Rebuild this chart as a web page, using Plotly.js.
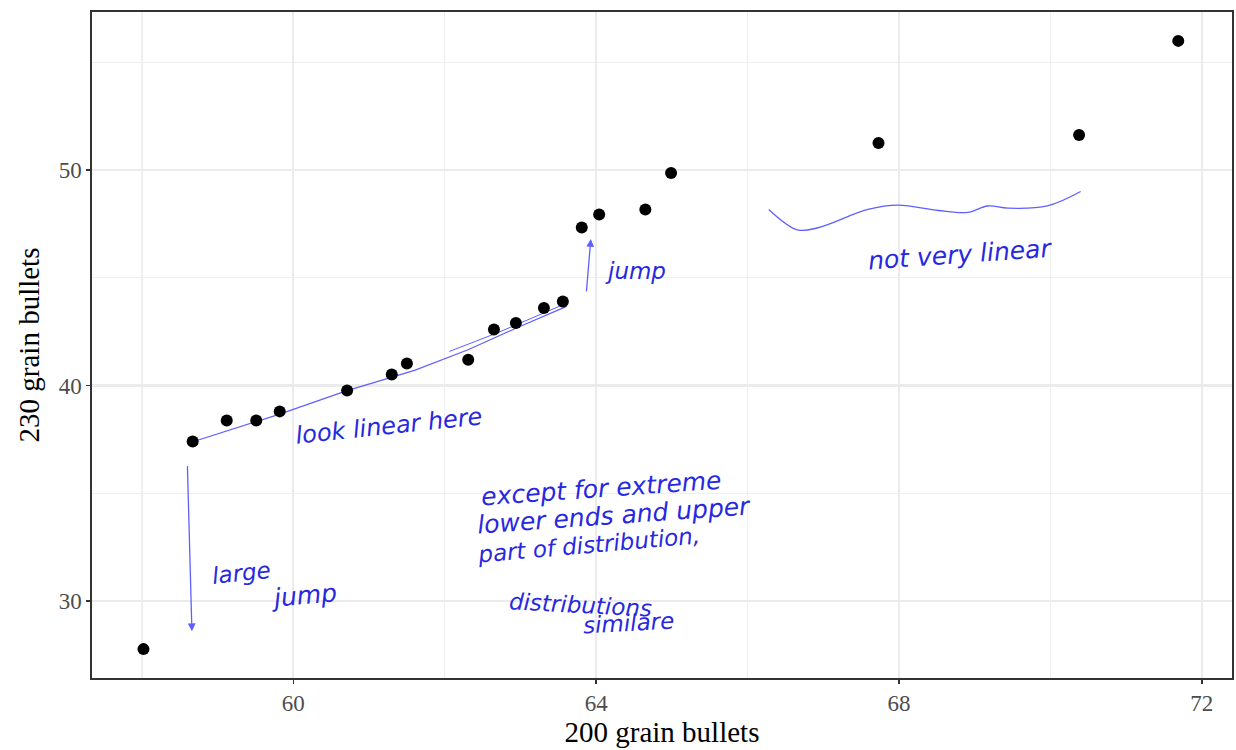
<!DOCTYPE html>
<html><head><meta charset="utf-8">
<script src="https://cdn.plot.ly/plotly-3.0.1.min.js"></script>
<style>html,body{margin:0;padding:0;background:#fff}#chart{width:1236px;height:750px}</style>
</head><body><div id="chart"></div>
<script>
// Quantiles of the two samples (QQ plot)
const grain200 = [58.02, 58.67, 59.12, 59.51, 59.82, 60.71, 61.30, 61.50, 62.31, 62.65, 62.94, 63.31, 63.56, 63.81, 64.04, 64.65, 64.99, 67.73, 70.38, 71.69];
const grain230 = [27.77, 37.40, 38.38, 38.38, 38.80, 39.77, 40.51, 41.02, 41.20, 42.60, 42.90, 43.60, 43.90, 47.33, 47.94, 48.17, 49.86, 51.25, 51.62, 55.99];
const xTicks = [60, 64, 68, 72];
const yTicks = [30, 40, 50];

// hand-drawn annotation strokes (data coordinates)
const fitLineX = [58.60, 59.8, 60.7, 61.6, 62.3, 63.0, 63.61];
const fitLineY = [37.31, 38.65, 39.75, 40.70, 41.65, 42.75, 43.67];
const fitLine2X = [62.06, 62.7, 63.57];
const fitLine2Y = [41.58, 42.45, 43.76];
const wavyX = [66.28, 66.66, 66.93, 67.59, 67.99, 68.52, 68.91, 69.17, 69.44, 69.96, 70.40];
const wavyY = [48.17, 47.22, 47.32, 48.17, 48.37, 48.12, 48.03, 48.33, 48.23, 48.33, 49.0];
const notes = [
  {t: "look linear here", x: 61.26, y: 38.14, a: -6, s: 24},
  {t: "large", x: 59.31, y: 31.31, a: -6, s: 23},
  {t: "jump", x: 60.14, y: 30.24, a: -5, s: 25},
  {t: "jump", x: 64.52, y: 45.33, a: 0, s: 23},
  {t: "except for extreme", x: 64.07, y: 35.2, a: -4, s: 25},
  {t: "lower ends and upper", x: 64.23, y: 33.95, a: -4, s: 25},
  {t: "part of distribution,", x: 63.90, y: 32.6, a: -5, s: 23},
  {t: "distributions", x: 63.79, y: 29.84, a: 3, s: 23},
  {t: "similare", x: 64.43, y: 29.0, a: -3, s: 23},
  {t: "not very linear", x: 68.81, y: 46.06, a: -4, s: 25}
];
const downArrow = {x0: 58.60, y0: 36.33, x1: 58.66, y1: 28.6};
const upArrow = {x0: 63.87, y0: 44.3, x1: 63.93, y1: 46.8};

const ink = "rgb(40,40,225)";
const pen = "rgb(95,95,255)";

const traces = [
  {x: fitLineX, y: fitLineY, mode: "lines", line: {color: pen, width: 1.2}, hoverinfo: "skip"},
  {x: fitLine2X, y: fitLine2Y, mode: "lines", line: {color: pen, width: 1}, hoverinfo: "skip"},
  {x: wavyX, y: wavyY, mode: "lines", line: {color: pen, width: 1.3, shape: "spline"}, hoverinfo: "skip"},
  {x: grain200, y: grain230, mode: "markers", marker: {color: "#000", size: 12}, hoverinfo: "x+y"}
];

const annotations = notes.map(n => ({
  x: n.x, y: n.y, xref: "x", yref: "y", text: n.t, showarrow: false, textangle: n.a,
  font: {family: "DejaVu Sans", size: n.s, color: ink, style: "italic"}
}));
[downArrow, upArrow].forEach(a => annotations.push({
  x: a.x1, y: a.y1, ax: a.x0, ay: a.y0, axref: "x", ayref: "y", xref: "x", yref: "y",
  text: "", showarrow: true, arrowhead: 2, arrowsize: 1.2, arrowwidth: 1.3, arrowcolor: pen
}));

const layout = {
  width: 1236, height: 750,
  margin: {l: 92, r: 4, t: 12, b: 72},
  paper_bgcolor: "#fff", plot_bgcolor: "#fff",
  showlegend: false,
  font: {family: "Liberation Serif, Times New Roman, serif"},
  xaxis: {
    range: [57.34, 72.4], tickvals: xTicks, ticktext: xTicks.map(String),
    showgrid: true, gridcolor: "#EBEBEB", gridwidth: 2.2,
    minor: {tickvals: [58, 62, 66, 70], showgrid: true, gridcolor: "#EFEFEF", gridwidth: 1.1, ticks: ""},
    zeroline: false, showline: true, linecolor: "#333", linewidth: 1.6, mirror: true,
    ticks: "outside", ticklen: 4, tickcolor: "#333", tickwidth: 1.6,
    tickfont: {size: 23, color: "#4D4D4D"},
    title: {text: "200 grain bullets", font: {size: 29, color: "#000"}, standoff: 2}
  },
  yaxis: {
    range: [26.43, 57.33], tickvals: yTicks, ticktext: yTicks.map(String),
    showgrid: true, gridcolor: "#EBEBEB", gridwidth: 2.2,
    minor: {tickvals: [35, 45, 55], showgrid: true, gridcolor: "#EFEFEF", gridwidth: 1.1, ticks: ""},
    zeroline: false, showline: true, linecolor: "#333", linewidth: 1.6, mirror: true,
    ticks: "outside", ticklen: 4, tickcolor: "#333", tickwidth: 1.6,
    tickfont: {size: 23, color: "#4D4D4D"},
    title: {text: "230 grain bullets", font: {size: 29, color: "#000"}, standoff: 10}
  },
  annotations: annotations
};

Plotly.newPlot("chart", traces, layout, {displayModeBar: false, staticPlot: true});
</script>
</body></html>
